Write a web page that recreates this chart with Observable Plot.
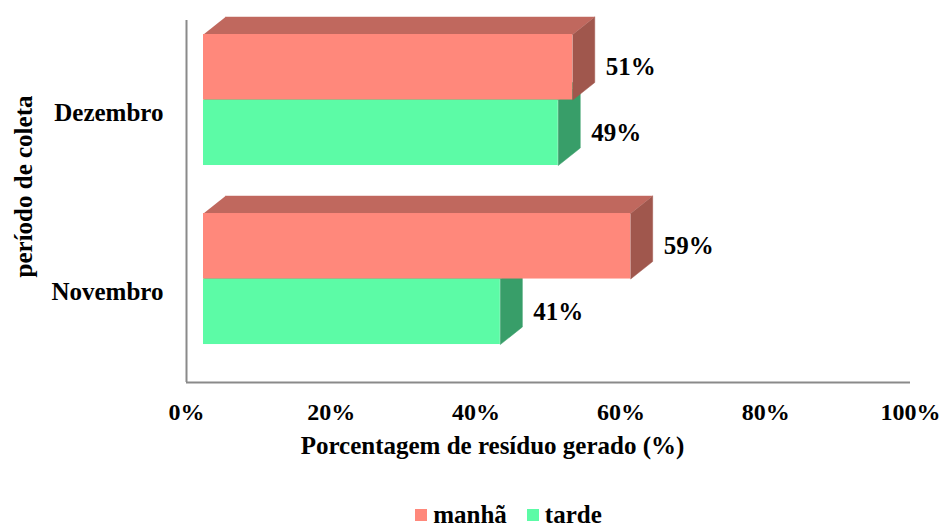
<!DOCTYPE html>
<html>
<head>
<meta charset="utf-8">
<script src="https://cdn.jsdelivr.net/npm/d3@7"></script>
<script src="https://cdn.jsdelivr.net/npm/@observablehq/plot@0.6"></script>
<style>
  body { margin: 0; background: #fff; font-family: 'Liberation Serif', 'Times New Roman', serif; }
  #legend { display: flex; justify-content: center; align-items: center; gap: 20px; height: 25px; line-height: 25px; margin-top: 12px;
            font-family: 'Liberation Serif', 'Times New Roman', serif; font-weight: bold; font-size: 25px; color: #000; padding-left: 76px; }
  #legend .item { display: flex; align-items: center; gap: 6px; }
  #legend .sw { width: 12px; height: 12px; display: inline-block; }
</style>
</head>
<body>
<div id="chart"></div>
<div id="legend"></div>
<script>
// ---- data ----
const categories = ["Dezembro", "Novembro"];
const series = ["manhã", "tarde"];
const manha = [51, 59];
const tarde = [49, 41];
const ticks = [0, 20, 40, 60, 80, 100];

// ---- styling / layout constants ----
const colors = {
  "manhã": {front: "#FF887B", top: "#C0685E", side: "#A0574D"},
  "tarde": {front: "#5CFBA6", top: "#45BC7C", side: "#389E69"}
};
const TOP = 0.214;      // gap above first bar (bar-height units)
const GROUP = 2.733;    // category step (bar-height units)
const DEPTH_X = 3.04;   // 3D depth in x units
const DEPTH_Y = -0.267; // 3D depth in y units
const FRONT_DX = 17;    // pixel shift of front faces

const rows = categories.flatMap((c, i) => series.map((s, j) => {
  const t = TOP + i * GROUP + j;
  return {category: c, series: s, value: (j === 0 ? manha : tarde)[i], t, b: t + 1, mid: t + 0.5};
}));

function polys(face) {
  const pts = [];
  rows.forEach((r, k) => {
    const v = r.value, t = r.t, b = r.b;
    let p;
    if (face === "top") p = [[0, t], [v, t], [v + DEPTH_X, t + DEPTH_Y], [DEPTH_X, t + DEPTH_Y]];
    else p = [[v, t], [v, b], [v + DEPTH_X, b + DEPTH_Y], [v + DEPTH_X, t + DEPTH_Y]];
    p.forEach(([x, y]) => pts.push({id: k, series: r.series, x, y}));
  });
  return pts;
}
const topPts = polys("top");
const sidePts = polys("side");

const marks = [];
for (const s of ["tarde", "manhã"]) {
  const col = colors[s];
  marks.push(
    Plot.line(topPts.filter(d => d.series === s), {x: "x", y: "y", z: "id", fill: col.top, stroke: col.top, strokeWidth: 0.5, dx: FRONT_DX}),
    Plot.line(sidePts.filter(d => d.series === s), {x: "x", y: "y", z: "id", fill: col.side, stroke: col.side, strokeWidth: 0.5, dx: FRONT_DX}),
    Plot.rect(rows.filter(d => d.series === s), {x1: 0, x2: "value", y1: "t", y2: "b", fill: col.front, dx: FRONT_DX})
  );
}

const chart = Plot.plot({
  width: 941,
  height: 490,
  marginLeft: 186,
  marginRight: 31,
  marginTop: 20,
  marginBottom: 108,
  style: {fontFamily: "'Liberation Serif', 'Times New Roman', serif", fontWeight: "bold", fontSize: "25px", color: "#000", background: "#fff", overflow: "visible"},
  x: {domain: [0, 100], axis: null},
  y: {domain: [0, 362 / 65.5], reverse: true, axis: null},
  marks: [
    Plot.ruleX([0], {stroke: "#8a8a8a", strokeWidth: 2}),
    Plot.ruleY([362 / 65.5], {stroke: "#8a8a8a", strokeWidth: 2}),
    ...marks,
    Plot.text(rows, {x: "value", y: "mid", text: d => d.value + "%", textAnchor: "start", dx: FRONT_DX + 33, fontSize: 25}),
    Plot.text(ticks, {x: d => d, text: d => d + "%", frameAnchor: "bottom", dy: 30, lineAnchor: "middle", fontSize: 24}),
    Plot.text(categories, {y: (d, i) => TOP + i * GROUP + 1, text: d => d, frameAnchor: "left", textAnchor: "end", dx: -23, dy: 13, fontSize: 25}),
    Plot.text(["Porcentagem de resíduo gerado (%)"], {frameAnchor: "bottom", textAnchor: "middle", dx: -56, dy: 63, lineAnchor: "middle", fontSize: 25}),
    Plot.text(["período de coleta"], {frameAnchor: "left", textAnchor: "middle", rotate: -90, dx: -163, dy: -15, lineAnchor: "middle", fontSize: 25})
  ]
});
document.getElementById("chart").append(chart);

const legend = document.getElementById("legend");
for (const s of series) {
  const item = document.createElement("span");
  item.className = "item";
  const sw = document.createElement("span");
  sw.className = "sw";
  sw.style.background = colors[s].front;
  const lab = document.createElement("span");
  lab.textContent = s;
  item.append(sw, lab);
  legend.append(item);
}
</script>
</body>
</html>
